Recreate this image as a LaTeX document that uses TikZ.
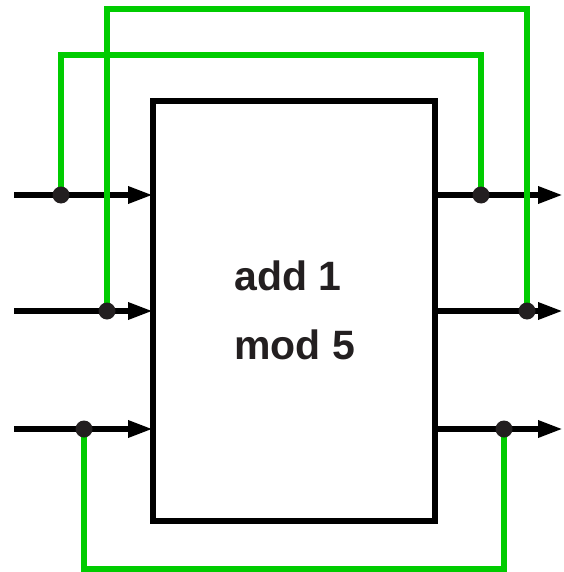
\documentclass[tikz,border=0pt]{standalone}
\usepackage{fontspec}
\setmainfont{Liberation Sans}
\usetikzlibrary{arrows.meta}
\definecolor{wire}{HTML}{00CC00}
\definecolor{dotc}{HTML}{231F20}
\begin{document}
\begin{tikzpicture}[x=1pt,y=-1pt,
  sig/.style={line width=6pt, -{Triangle[length=25pt,width=16pt]}},
  fb/.style={line width=6pt, draw=wire},
  tap/.style={circle, fill=dotc, inner sep=0pt, minimum size=17pt},
  boxst/.style={draw, line width=6.5pt, minimum width=282pt, minimum height=420pt, inner sep=0pt, outer sep=0pt},
  lbl/.style={font=\bfseries\fontsize{41}{48}\selectfont, anchor=base west, inner sep=0pt, text=dotc}]
\useasboundingbox (0,0) rectangle (563,572);
\node[boxst] (box) at (294,311) {};
\node[lbl] (t1) at (234,290) {add 1};
\node[lbl] (t2) at (234,359) {mod 5};
% signal ends
\coordinate (in1) at (14,195);
\coordinate (in2) at (14,311);
\coordinate (in3) at (14,429);
\coordinate (out1) at (563,195);
\coordinate (out2) at (563,311);
\coordinate (out3) at (563,429);
% tap points
\coordinate (l1) at (61,195);
\coordinate (l2) at (107,311);
\coordinate (l3) at (84,429);
\coordinate (r1) at (481,195);
\coordinate (r2) at (527,311);
\coordinate (r3) at (504,429);
% black signal lines
\draw[sig] (in1) -- (in1 -| box.west);
\draw[sig] (in2) -- (in2 -| box.west);
\draw[sig] (in3) -- (in3 -| box.west);
\draw[sig] (out1 -| box.east) -- (out1);
\draw[sig] (out2 -| box.east) -- (out2);
\draw[sig] (out3 -| box.east) -- (out3);
% green feedback wires
\draw[fb] (l2) -- (107,9) -- (527,9) -- (r2);
\draw[fb] (l1) -- (61,55) -- (481,55) -- (r1);
\draw[fb] (l3) -- (84,569) -- (504,569) -- (r3);
% dots
\node[tap] (dl1) at (l1) {};
\node[tap] (dl2) at (l2) {};
\node[tap] (dl3) at (l3) {};
\node[tap] (dr1) at (r1) {};
\node[tap] (dr2) at (r2) {};
\node[tap] (dr3) at (r3) {};
\end{tikzpicture}
\end{document}
